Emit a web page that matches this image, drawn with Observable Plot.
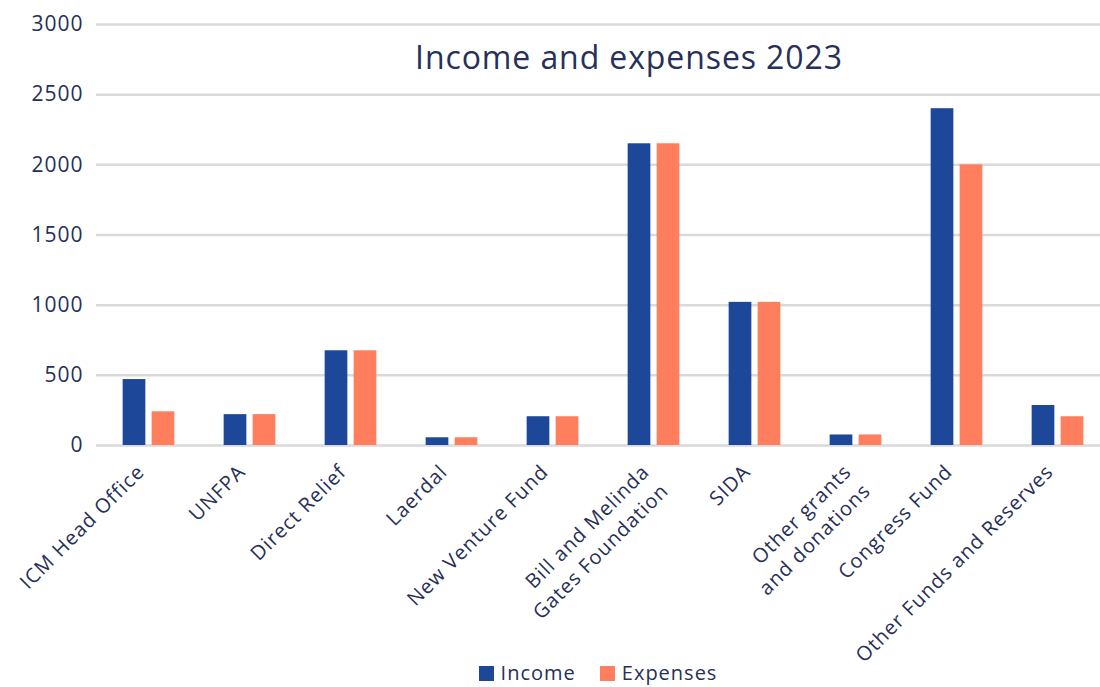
<!DOCTYPE html>
<html>
<head>
<meta charset="utf-8">
<script src="https://cdn.jsdelivr.net/npm/d3@7"></script>
<script src="https://cdn.jsdelivr.net/npm/@observablehq/plot@0.6"></script>
<style>
  html, body { margin: 0; padding: 0; background: #fff; }
  body { font-family: "Open Sans", sans-serif; color: #263059; width: 1100px; height: 687px; overflow: hidden; }
  #wrap { position: relative; width: 1100px; height: 687px; overflow: hidden; }
  #chart svg { max-width: none !important; display: block; }
  #chart .xax text { letter-spacing: 1px; }
  #chart .yax text { letter-spacing: 1px; }
  #title { position: absolute; left: 0; width: 1258px; top: 37px; text-align: center; font-size: 32px; line-height: 40px; color: #263059; letter-spacing: 0.9px; }
  #legend { position: absolute; left: 96px; right: 0; top: 662px; display: flex; justify-content: center; gap: 24px; font-size: 20px; line-height: 22px; letter-spacing: 1px; color: #263059; }
  .item { display: flex; align-items: center; gap: 7px; }
  .sw { width: 15px; height: 15px; display: inline-block; }
</style>
</head>
<body>
<div id="wrap">
  <div id="chart"></div>
  <div id="title">Income and expenses 2023</div>
  <div id="legend"></div>
</div>
<script>
const categories = [
  "ICM Head Office",
  "UNFPA",
  "Direct Relief",
  "Laerdal",
  "New Venture Fund",
  "Bill and Melinda\nGates Foundation",
  "SIDA",
  "Other grants\nand donations",
  "Congress Fund",
  "Other Funds and Reserves"
];
const income   = [470, 220, 675, 55, 205, 2150, 1020, 75, 2400, 285];
const expenses = [240, 220, 675, 55, 205, 2150, 1020, 75, 2000, 205];
const yTicks = [0, 500, 1000, 1500, 2000, 2500, 3000];
const seriesNames = ["Income", "Expenses"];
const seriesColors = ["#1d4899", "#ff7e5d"];

const incomeRows = categories.map((c, i) => ({category: c, value: income[i]}));
const expenseRows = categories.map((c, i) => ({category: c, value: expenses[i]}));

const W = 1109;
const mL = 96, mR = 0;
const band = (W - mL - mR) / categories.length;

const chart = Plot.plot({
  width: W,
  height: 687,
  marginLeft: mL,
  marginRight: mR,
  marginTop: 24,
  marginBottom: 242,
  style: { fontFamily: "Open Sans, sans-serif", fontSize: "20px", color: "#263059", background: "#fff" },
  x: { domain: categories, padding: 0, label: null },
  y: { domain: [0, 3000], label: null },
  marks: [
    Plot.gridY(yTicks, { stroke: "#d9d9d9", strokeOpacity: 1, strokeWidth: 2.5 }),
    Plot.barY(incomeRows, {
      x: "category", y: "value", fill: seriesColors[0],
      insetLeft: band / 2 - 26, insetRight: band / 2 + 3
    }),
    Plot.barY(expenseRows, {
      x: "category", y: "value", fill: seriesColors[1],
      insetLeft: band / 2 + 3, insetRight: band / 2 - 26
    }),
    Plot.axisY({ ticks: yTicks, tickFormat: d => String(d), tickSize: 0, tickPadding: 13, fontSize: 21, label: null, className: "yax" }),
    Plot.axisX({ tickSize: 0, tickPadding: 14, tickRotate: -45, fontSize: 20, label: null, lineHeight: 1.35, lineAnchor: "top", dx: -17, className: "xax" })
  ]
});
document.getElementById("chart").appendChild(chart);

const legend = document.getElementById("legend");
seriesNames.forEach((n, i) => {
  const item = document.createElement("div");
  item.className = "item";
  const sw = document.createElement("span");
  sw.className = "sw";
  sw.style.background = seriesColors[i];
  const t = document.createElement("span");
  t.textContent = n;
  item.appendChild(sw);
  item.appendChild(t);
  legend.appendChild(item);
});
</script>
</body>
</html>
